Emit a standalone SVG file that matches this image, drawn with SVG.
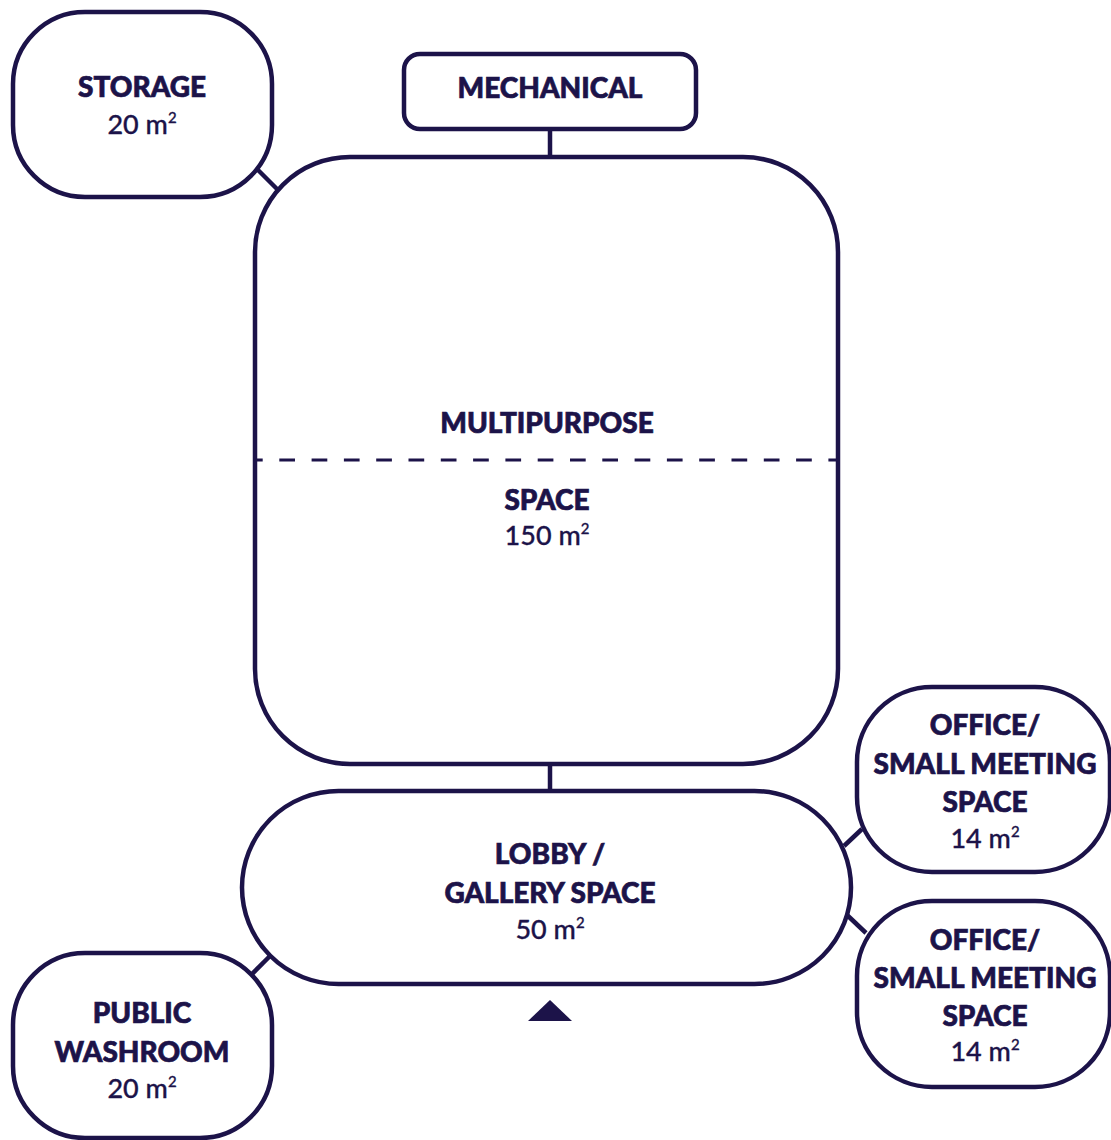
<svg xmlns="http://www.w3.org/2000/svg" width="1111" height="1140" viewBox="0 0 1111 1140">
<style>
.box{fill:#fff;stroke:#1c1349;stroke-width:4.5}
.ln{stroke:#1c1349;stroke-width:4.5;fill:none}
.t{font-family:Lato,"Liberation Sans",sans-serif;font-weight:900;font-size:28px;fill:#1c1349;stroke:#1c1349;stroke-width:0.7;text-anchor:middle}
.n{font-family:Lato,"Liberation Sans",sans-serif;font-weight:500;font-size:27px;fill:#1c1349;stroke:#1c1349;stroke-width:0.3;text-anchor:middle}
.s{font-size:15px}
</style>
<rect width="1111" height="1140" fill="#fff"/>
<g id="connectors">
<line class="ln" x1="550" y1="129" x2="550" y2="157"/>
<line class="ln" x1="258" y1="170" x2="277" y2="189"/>
<line class="ln" x1="550" y1="764" x2="550" y2="791"/>
<line class="ln" x1="844" y1="846" x2="862" y2="829"/>
<line class="ln" x1="847" y1="915" x2="866" y2="933"/>
<line class="ln" x1="252" y1="974" x2="270" y2="956"/>
</g>
<g id="storage">
<rect class="box" x="13" y="12" width="259" height="185" rx="72"/>
<text class="t" x="142" y="97">STORAGE</text>
<text class="n" x="142" y="134">20 m<tspan class="s" dy="-11">2</tspan></text>
</g>
<g id="mechanical">
<rect class="box" x="404" y="54" width="292" height="75" rx="16"/>
<text class="t" x="550" y="98">MECHANICAL</text>
</g>
<g id="multipurpose">
<rect class="box" x="255" y="157" width="583" height="607" rx="95"/>
<line x1="257" y1="460" x2="838" y2="460" stroke="#1c1349" stroke-width="3" stroke-dasharray="15.7,16.6" stroke-dashoffset="10"/>
<text class="t" x="547" y="433">MULTIPURPOSE</text>
<text class="t" x="547" y="510">SPACE</text>
<text class="n" x="547" y="545">150 m<tspan class="s" dy="-11">2</tspan></text>
</g>
<g id="lobby">
<rect class="box" x="242" y="791" width="609" height="193" rx="96.5"/>
<text class="t" x="550" y="864">LOBBY /</text>
<text class="t" x="550" y="903">GALLERY SPACE</text>
<text class="n" x="550" y="939">50 m<tspan class="s" dy="-11">2</tspan></text>
<polygon points="528,1021 572,1021 550,1000" fill="#1c1349"/>
</g>
<g id="office1">
<rect class="box" x="857" y="687" width="253" height="185" rx="75"/>
<text class="t" x="985" y="735">OFFICE/</text>
<text class="t" x="985" y="774">SMALL MEETING</text>
<text class="t" x="985" y="812">SPACE</text>
<text class="n" x="985" y="848">14 m<tspan class="s" dy="-11">2</tspan></text>
</g>
<g id="office2">
<rect class="box" x="857" y="901" width="253" height="186" rx="75"/>
<text class="t" x="985" y="950">OFFICE/</text>
<text class="t" x="985" y="988">SMALL MEETING</text>
<text class="t" x="985" y="1026">SPACE</text>
<text class="n" x="985" y="1061">14 m<tspan class="s" dy="-11">2</tspan></text>
</g>
<g id="washroom">
<rect class="box" x="13" y="953" width="259" height="185" rx="72"/>
<text class="t" x="142" y="1023">PUBLIC</text>
<text class="t" x="142" y="1062">WASHROOM</text>
<text class="n" x="142" y="1098">20 m<tspan class="s" dy="-11">2</tspan></text>
</g>
</svg>
